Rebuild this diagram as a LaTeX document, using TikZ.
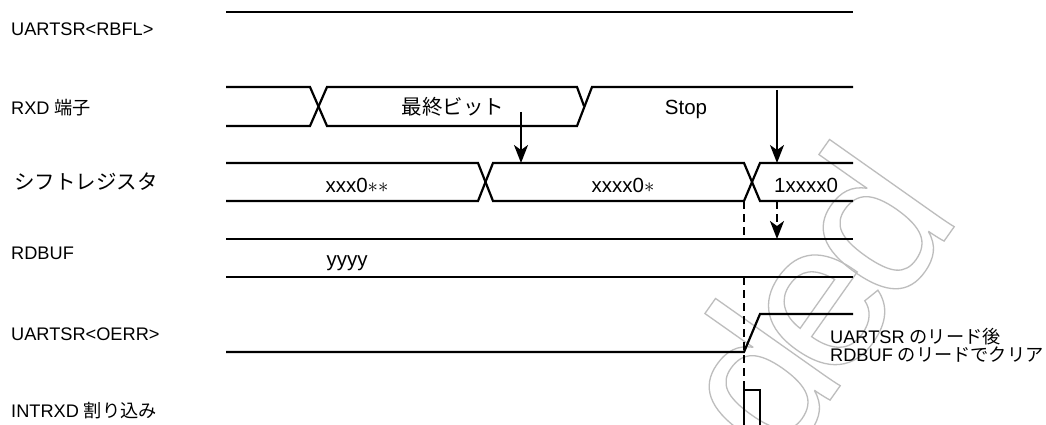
\documentclass[tikz,border=0pt]{standalone}
\usepackage{fontspec}
\setmainfont{Liberation Sans}
\newfontfamily\jpfont{Noto Sans CJK JP}
\definecolor{wmgray}{HTML}{BDBDBD}
\usepackage{tikz}
\usetikzlibrary{arrows.meta,positioning}
\newcommand\lblsize{\fontsize{18.2}{21}\selectfont}
\newcommand\datsize{\fontsize{20.5}{24}\selectfont}
% outlined letters for the watermark
\newcommand\outlined[1]{\special{pdf:literal direct 1 Tr 1.3 w}#1\special{pdf:literal direct 0 Tr}}

\begin{document}
\begin{tikzpicture}[x=1pt,y=-1pt,
    sig/.style={line width=2.2pt,line join=miter},
    arr/.style={line width=2pt,-{Stealth[length=18pt,width=14pt,inset=5pt]}},
    dashline/.style={line width=2pt,dash pattern=on 8pt off 5pt},
    lbl/.style={font=\lblsize,anchor=base west,inner sep=0pt},
    dat/.style={font=\datsize,anchor=base,inner sep=0pt},
    wm/.style={rotate=54.8,anchor=base west,inner sep=0pt,text=wmgray,font=\fontsize{210}{210}\selectfont}]
  \fill[white] (0,0) rectangle (1046,425);
  \useasboundingbox (0,0) rectangle (1046,425);

  % watermark
  \begin{scope}
    \clip (0,0) rectangle (1046,425);
    \node[wm] (wmd1) at (780.6,470.2) {\outlined{d}};
    \node[wm] (wme) at (837.3,389.7) {\outlined{e}};
    \node[wm] (wmd2) at (894.6,311.2) {\outlined{d}};
  \end{scope}

  % signal names
  \node[lbl] (rbfl) at (11,36) {UARTSR<RBFL>};
  \node[lbl] (rxd) at (11,115) {RXD {\jpfont 端子}};
  \node[lbl,anchor=west] (shreg) at (14,182) {\jpfont\datsize シフトレジスタ};
  \node[lbl] (rdbuf) at (11,259) {RDBUF};
  \node[lbl] (oerr) at (11,340) {UARTSR<OERR>};
  \node[lbl] (intrxd) at (11,417) {INTRXD {\jpfont 割り込み}};

  % UARTSR<RBFL>
  \draw[sig] (226,12) -- (853,12);

  % RXD pin: last bit, then stop
  \draw[sig] (226,87) -- (310,87) -- (327,126) -- (577,126) -- (592,87) -- (853,87);
  \draw[sig] (226,126) -- (310,126) -- (327,87) -- (577,87) -- (584,106);
  \node[dat] (lastbit) at (453,115) {\jpfont 最終ビット};
  \node[dat] (stop) at (686,115) {Stop};

  % shift register
  \draw[sig] (226,163) -- (478,163) -- (493,201) -- (744,201) -- (760,163) -- (853,163);
  \draw[sig] (226,201) -- (478,201) -- (493,163) -- (744,163) -- (760,201) -- (853,201);
  \node[dat] (sr1) at (357,192) {xxx0$\ast\ast$};
  \node[dat] (sr2) at (623,192) {xxxx0$\ast$};
  \node[dat] (sr3) at (806,192) {1xxxx0};

  % RDBUF
  \draw[sig] (226,239) -- (853,239);
  \draw[sig] (226,277) -- (853,277);
  \node[dat] (rdval) at (347,266) {yyyy};

  % UARTSR<OERR>
  \draw[sig] (226,352) -- (744,352) -- (760,314) -- (853,314);
  \node[lbl] (note1) at (830,343) {UARTSR {\jpfont のリード後}};
  \node[lbl] (note2) at (830,361) {RDBUF {\jpfont のリードでクリア}};

  % INTRXD
  \draw[sig] (744,425) -- (744,390) -- (760,390) -- (760,425);

  % sampling arrows
  \coordinate (s1) at (521,112);
  \coordinate (e1) at (521,163);
  \coordinate (s2) at (777,90);
  \coordinate (e2) at (777,163);
  \coordinate (s3) at (777,201);
  \coordinate (e3) at (777,239);
  \draw[arr] (s1) -- (e1);
  \draw[arr] (s2) -- (e2);
  \draw[arr,dash pattern=on 8pt off 5pt] (s3) -- (e3);

  % timing mark
  \coordinate (m1) at (744,201);
  \coordinate (m2) at (744,239);
  \coordinate (m3) at (744,277);
  \coordinate (m4) at (744,390);
  \draw[dashline] (m1) -- (m2);
  \draw[dashline] (m3) -- (m4);
\end{tikzpicture}
\end{document}
